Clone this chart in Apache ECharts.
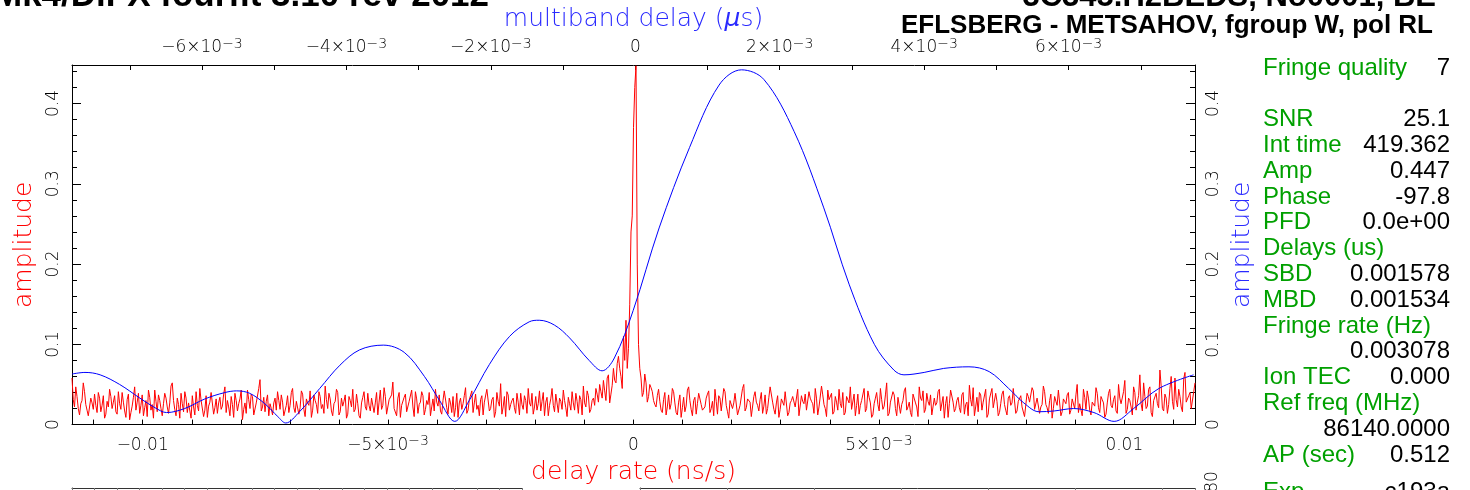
<!DOCTYPE html>
<html><head><meta charset="utf-8">
<script src="https://cdn.jsdelivr.net/npm/echarts@6/dist/echarts.min.js"></script>
<style>html,body{margin:0;padding:0;background:#fff;overflow:hidden}#c{width:1470px;height:490px}</style>
</head><body><div id="c"></div><script>
// ---------- data ----------
const rateMin = -0.01144, rateMax = 0.01144;      // delay rate axis range (ns/s)
const mbdMin = -0.0078, mbdMax = 0.00775;          // multiband delay axis range (us)
const ampMax = 0.448;

// delay-rate amplitude (x 0.001) at even samples over [rateMin, rateMax]
const rateAmpMilli = [
58,22,35,12,30,41,18,9,27,38,15,33,24,8,29,44,20,36,13,26,
40,17,31,6,23,47,28,14,37,21,10,34,25,43,16,30,11,39,22,27,
52,19,33,8,26,41,15,29,36,12,24,45,31,18,9,28,38,21,14,34,
23,47,30,11,25,39,17,32,6,27,43,20,35,13,29,56,22,16,37,26,
12,33,41,19,28,9,36,24,45,15,31,21,38,10,27,42,18,30,14,35,
25,48,20,32,11,29,40,16,23,37,13,30,44,19,26,8,34,22,39,17,
31,27,12,43,24,35,15,29,53,20,33,9,26,38,18,30,22,41,14,28,
36,19,25,11,32,44,23,17,30,40,13,27,35,21,9,33,26,46,18,29,
15,38,24,31,12,27,42,20,34,16,29,51,22,10,37,25,33,14,28,39,
19,30,45,23,13,35,26,17,40,28,11,32,24,38,15,29,43,21,34,18,
27,39,14,31,48,22,36,19,33,45,28,41,55,30,62,38,70,52,85,60,
110,130,95,240,370,447,100,58,40,52,35,46,30,
22,44,18,31,12,37,26,41,15,28,9,34,23,47,19,30,13,39,25,16,
33,42,20,11,29,36,17,45,24,8,31,27,38,14,26,50,21,32,10,35,
28,17,40,23,13,34,46,19,27,9,32,24,43,15,30,37,20,11,36,26,
18,41,29,14,33,22,48,25,10,31,39,16,28,44,21,12,35,27,19,38,
24,13,30,45,20,34,9,26,40,17,31,23,52,14,29,37,11,33,25,42,
18,28,10,36,22,47,30,15,39,24,12,33,27,44,19,8,35,26,41,16,
30,21,37,13,28,49,23,11,34,40,18,26,9,32,45,20,29,15,38,25,
12,36,27,43,17,31,22,10,39,28,46,19,33,14,25,41,21,30,8,35,
24,45,16,29,37,13,32,20,50,26,11,34,42,18,28,23,39,15,31,9,
27,44,21,36,14,33,25,55,19,30,12,40,28,62,17,35,23,47,10,32,
26,68,20,38,14,45,29,58,22,35,16,65,27,40,18,52
];
// delay-rate amplitude (x 0.001) at the samples lying between the ones above
const rateAmpMilliMid = [
31,47,20,26,52,25,11,33,19,24,40,16,36,13,22,35,28,16,41,19,
28,9,38,15,34,18,39,24,11,30,43,18,8,29,37,20,26,33,14,48,
30,11,25,39,16,33,27,8,22,41,17,30,10,36,23,40,13,32,27,19,
38,15,22,35,9,30,26,43,19,14,31,38,12,27,45,17,34,29,11,20,
27,18,30,37,11,24,15,40,21,29,13,42,19,32,24,9,37,25,41,20,
14,31,39,17,26,44,12,33,29,8,35,22,16,38,11,27,41,18,24,33,
15,40,28,19,46,13,31,37,20,11,40,24,34,16,29,43,10,32,25,41,
12,30,40,22,17,28,37,13,42,21,33,15,10,39,27,19,36,14,31,42,
27,19,11,36,28,44,17,31,9,40,23,13,35,41,18,30,21,39,12,25,
36,14,27,39,22,18,42,29,11,34,24,45,16,27,33,19,30,10,26,41,
18,29,36,12,27,42,15,30,24,38,50,33,42,58,27,49,55,76,70,45,
80,70,150,260,420,200,70,35,63,28,50,41,25,36,29,15,40,22,19,45,
27,12,37,21,16,43,30,11,34,26,41,18,22,38,15,29,44,13,33,19,
41,16,30,20,39,12,24,45,17,32,28,9,41,24,31,14,37,20,47,28,
13,36,19,30,41,11,27,35,22,44,10,29,38,17,33,26,45,12,24,37,
20,43,29,13,35,18,26,40,15,31,47,21,11,38,24,30,16,42,27,12,
33,25,45,19,37,11,28,41,20,34,14,30,46,22,15,38,27,10,33,42,
19,29,37,13,24,41,17,35,26,9,43,28,20,34,15,40,25,11,31,46,
22,16,37,28,44,13,30,21,39,11,26,42,18,33,24,45,14,29,36,20,
12,35,27,42,17,31,22,48,25,14,38,20,29,43,11,32,26,40,18,30,
37,15,24,44,19,33,12,28,46,21,35,27,13,39,24,31,17,50,26,41,
14,33,22,47,18,36,26,52,20,44,15,30,39,21,48,17,33,25,60,19,
31,44,22,57,28,36,20,41
];

// multiband delay function
const mbdDelay = [
-0.00780,-0.00762,-0.00741,-0.00714,-0.00686,-0.00665,-0.00649,-0.00624,-0.00596,-0.00568,
-0.00552,-0.00534,-0.00513,-0.00495,-0.00484,-0.00465,-0.00437,-0.00409,-0.00382,-0.00349,
-0.00320,-0.00292,-0.00271,-0.00250,-0.00230,-0.00202,-0.00174,-0.00147,-0.00133,-0.00112,
-0.00091,-0.00064,-0.00046,-0.00029,-0.00003,0.00033,0.00075,0.00116,0.00147,0.00178,
0.00220,0.00261,0.00296,0.00331,0.00358,0.00372,0.00400,0.00427,0.00462,0.00490,
0.00517,0.00538,0.00559,0.00580,0.00607,0.00635,0.00663,0.00690,0.00725,0.00773
];
const mbdAmp = [
0.063,0.065,0.062,0.050,0.033,0.021,0.015,0.020,0.032,0.040,
0.042,0.039,0.026,0.010,0.002,0.016,0.045,0.074,0.093,0.099,
0.090,0.060,0.030,0.004,0.030,0.075,0.110,0.128,0.130,0.124,
0.108,0.080,0.067,0.083,0.142,0.245,0.345,0.423,0.442,0.430,
0.365,0.270,0.175,0.100,0.068,0.062,0.065,0.070,0.072,0.066,
0.045,0.027,0.016,0.017,0.020,0.015,0.004,0.020,0.045,0.062
];

// tick labels
const rateTickValues = [-0.01, -0.005, 0, 0.005, 0.01];
const rateTickText = ['−0.01', '−5×10|−3', '0', '5×10|−3', '0.01'];
const rateMinorTicks = [-0.011,-0.01,-0.009,-0.008,-0.007,-0.006,-0.005,-0.004,-0.003,-0.002,-0.001,0,
  0.001,0.002,0.003,0.004,0.005,0.006,0.007,0.008,0.009,0.01,0.011];
const mbdTickValues = [-0.006,-0.004,-0.002,0,0.002,0.004,0.006];
const mbdTickText = ['−6×10|−3','−4×10|−3','−2×10|−3','0','2×10|−3','4×10|−3','6×10|−3'];
const mbdMinorTicks = [-0.007,-0.006,-0.005,-0.004,-0.003,-0.002,-0.001,0,0.001,0.002,0.003,0.004,0.005,0.006,0.007];

// text
const titleLeft = 'Mk4/DiFX fourfit 3.10 rev 2012';
const titleRight1 = '3C345.H2BEDS, No0001, BE';
const titleRight2 = 'EFLSBERG - METSAHOV, fgroup W, pol RL';
const infoLabels = ['Fringe quality','','SNR','Int time','Amp','Phase','PFD','Delays (us)','SBD','MBD',
  'Fringe rate (Hz)','','Ion TEC','Ref freq (MHz)','','AP (sec)','Exp.'];
const infoValues = ['7','','25.1','419.362','0.447','-97.8','0.0e+00','','0.001578','0.001534',
  '','0.003078','0.000','','86140.0000','0.512','c193a'];

// ---------- chart ----------
const chart = echarts.init(document.getElementById('c'), null, {renderer:'canvas'});
const n = rateAmpMilli.length;
const halfStep = (rateMax - rateMin) / (2 * (n - 1));
const rateData = [];
for (let i = 0; i < n; i++) {
  rateData.push([rateMin + 2 * i * halfStep, rateAmpMilli[i] / 1000]);
  if (i < n - 1) rateData.push([rateMin + (2 * i + 1) * halfStep, rateAmpMilliMid[i] / 1000]);
}
const mbdData = mbdDelay.map((d, i) => [d, mbdAmp[i]]);

const tickFont = '"DejaVu Sans", sans-serif';
const rich = {
  b: {fontFamily: tickFont, fontWeight: 200, fontSize: 17, lineHeight: 22, color: '#000'},
  s: {fontFamily: tickFont, fontWeight: 200, fontSize: 14, lineHeight: 10, verticalAlign: 'top', color: '#000'}
};
function toRich(s) {
  const p = s.split('|');
  return p.length > 1 ? '{b|' + p[0] + '}{s|' + p[1] + '}' : '{b|' + s + '}';
}
function labelFor(vals, txt) {
  return function (v) {
    for (let i = 0; i < vals.length; i++) if (Math.abs(vals[i] - v) < 1e-9) return toRich(txt[i]);
    return '';
  };
}

const GL = 72, GR = 1195, GT = 65, GB = 428;
const infoFont = '24px "Liberation Sans", Arial, sans-serif';
const green = '#00a000';
const graphics = [];
function addText(text, x, y, fill, font, align, rot) {
  graphics.push({type: 'text', x: x, y: y, rotation: rot || 0, silent: true,
    style: {text: text, fill: fill, font: font, textAlign: align, textVerticalAlign: 'middle'}});
}
// headers
addText(titleLeft, -7, -4, '#000', 'bold 35px "Liberation Sans", Arial, sans-serif', 'left');
addText(titleRight1, 1436, -3, '#000', 'bold 31px "Liberation Sans", Arial, sans-serif', 'right');
addText(titleRight2, 1433, 26, '#000', 'bold 26px "Liberation Sans", Arial, sans-serif', 'right');
// info panel
const rowStep = 25.8;
for (let i = 0; i < infoLabels.length; i++) {
  const base = (i < 16) ? 76.5 + i * rowStep : 501;
  const y = base - 8.5;
  if (infoLabels[i]) addText(infoLabels[i], 1263, y, green, infoFont, 'left');
  if (infoValues[i]) addText(infoValues[i], 1450, y, '#000', infoFont, 'right');
}
addText('80', 1213, 482, '#000', '200 17px "DejaVu Sans", sans-serif', 'center', Math.PI / 2);

const nameStyle = (c) => ({color: c, fontFamily: tickFont, fontWeight: 200, fontSize: 25, lineHeight: 26});
const yLabel = {show: true, rotate: 90, margin: 10, showMaxLabel: false, fontFamily: tickFont, fontWeight: 200,
  fontSize: 17, color: '#000', formatter: v => (v === 0 ? '0' : v.toFixed(1))};

const option = {
  animation: false,
  backgroundColor: '#fff',
  grid: [
    {left: GL, top: GT, width: GR - GL, height: GB - GT, containLabel: false},
    {left: 72, top: 488, width: 450, height: 300},
    {left: 640, top: 488, width: 555, height: 300}
  ],
  xAxis: [
    {type: 'value', gridIndex: 0, position: 'bottom', min: rateMin, max: rateMax,
      axisLine: {show: true, onZero: false, lineStyle: {color: '#000', width: 1}},
      splitLine: {show: false},
      axisTick: {show: true, inside: true, length: 5, customValues: rateMinorTicks, lineStyle: {color: '#000'}},
      axisLabel: {show: true, customValues: rateTickValues, formatter: labelFor(rateTickValues, rateTickText), margin: 10, rich: rich},
      name: 'delay rate (ns/s)', nameLocation: 'middle', nameGap: 24, nameTextStyle: nameStyle('#ff0000')},
    {type: 'value', gridIndex: 0, position: 'top', min: mbdMin, max: mbdMax,
      axisLine: {show: true, onZero: false, lineStyle: {color: '#000', width: 1}},
      splitLine: {show: false},
      axisTick: {show: true, inside: true, length: 5, customValues: mbdMinorTicks, lineStyle: {color: '#000'}},
      axisLabel: {show: true, customValues: mbdTickValues, formatter: labelFor(mbdTickValues, mbdTickText), margin: 6, rich: rich},
      name: '{n|multiband delay (}{i|μ}{n|s)}', nameLocation: 'middle', nameGap: 32,
      nameTextStyle: {rich: {
        n: {color: '#2a2aff', fontFamily: tickFont, fontWeight: 200, fontSize: 25, lineHeight: 26},
        i: {color: '#2a2aff', fontFamily: tickFont, fontWeight: 200, fontSize: 25, lineHeight: 26, fontStyle: 'italic'}}}},
    {type: 'value', gridIndex: 1, position: 'top', min: 0, max: 20, interval: 1,
      axisLine: {show: true, onZero: false, lineStyle: {color: '#333'}}, splitLine: {show: false},
      axisTick: {show: true, inside: true, length: 6, lineStyle: {color: '#777'}},
      axisLabel: {show: false}},
    {type: 'value', gridIndex: 2, position: 'top', min: 0, max: 6.38, interval: 1,
      axisLine: {show: true, onZero: false, lineStyle: {color: '#333'}}, splitLine: {show: false},
      axisTick: {show: true, inside: true, length: 6, lineStyle: {color: '#777'}},
      axisLabel: {show: false}}
  ],
  yAxis: [
    {type: 'value', gridIndex: 0, position: 'left', min: 0, max: ampMax, interval: 0.1,
      axisLine: {show: true, onZero: false, lineStyle: {color: '#000'}},
      splitLine: {show: false},
      axisTick: {show: true, inside: true, length: 9, lineStyle: {color: '#000'}},
      minorTick: {show: true, splitNumber: 5, length: 5, lineStyle: {color: '#000'}},
      axisLabel: yLabel,
      name: 'amplitude', nameLocation: 'middle', nameRotate: 90, nameGap: 29, nameTextStyle: nameStyle('#ff0000')},
    {type: 'value', gridIndex: 0, position: 'right', min: 0, max: ampMax, interval: 0.1,
      axisLine: {show: true, onZero: false, lineStyle: {color: '#000'}},
      splitLine: {show: false},
      axisTick: {show: true, inside: true, length: 9, lineStyle: {color: '#000'}},
      minorTick: {show: true, splitNumber: 5, length: 5, lineStyle: {color: '#000'}},
      axisLabel: yLabel,
      name: 'amplitude', nameLocation: 'middle', nameRotate: 90, nameGap: 33, nameTextStyle: nameStyle('#2a2aff')},
    {type: 'value', gridIndex: 1, min: 0, max: 1, axisLine: {show: true, onZero: false, lineStyle: {color: '#333'}},
      axisTick: {show: false}, axisLabel: {show: false}, splitLine: {show: false}},
    {type: 'value', gridIndex: 2, min: 0, max: 1, axisLine: {show: true, onZero: false, lineStyle: {color: '#333'}},
      axisTick: {show: false}, axisLabel: {show: false}, splitLine: {show: false}}
  ],
  series: [
    {type: 'line', name: 'delay rate', xAxisIndex: 0, yAxisIndex: 0, data: rateData,
      showSymbol: false, symbol: 'none', lineStyle: {color: '#ff0000', width: 1}, z: 2},
    {type: 'line', name: 'multiband delay', xAxisIndex: 1, yAxisIndex: 1, data: mbdData,
      showSymbol: false, symbol: 'none', smooth: 0.35, lineStyle: {color: '#0000ff', width: 1}, z: 3}
  ],
  graphic: graphics
};
chart.setOption(option);
</script></body></html>
